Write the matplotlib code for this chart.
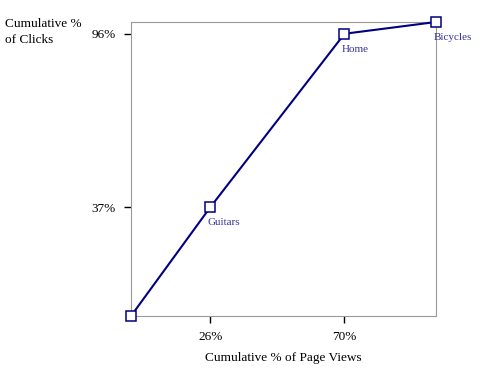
import matplotlib.pyplot as plt

page_views = [0, 26, 70, 100]
clicks = [0, 37, 96, 100]
point_names = ["", "Guitars", "Home", "Bicycles"]
x_ticks = [26, 70]
y_ticks = [37, 96]

plt.rcParams['font.family'] = ['Liberation Serif', 'DejaVu Serif']

fig = plt.figure(figsize=(4.82, 3.77), dpi=100)
ax = fig.add_axes([131 / 482, 61 / 377, 305 / 482, 294 / 377])

ax.plot(page_views, clicks, color='#000080', lw=1.5, marker='s', ms=6.5,
        mfc='white', mec='#000080', mew=1.1, clip_on=False, zorder=3)

for x, y, name in zip(page_views, clicks, point_names):
    if name:
        ax.annotate(name, (x, y), xytext=(-2, -8), textcoords='offset points',
                    ha='left', va='top', fontsize=8, color='#333399')

ax.set_xlim(0, 100)
ax.set_ylim(0, 100)
ax.set_xticks(x_ticks)
ax.set_xticklabels([f"{v}%" for v in x_ticks])
ax.set_yticks(y_ticks)
ax.set_yticklabels([f"{v}%" for v in y_ticks])
ax.tick_params(direction='out', length=5, width=1, labelsize=9.5, pad=6)

for s in ax.spines.values():
    s.set_color('#999999')

ax.set_xlabel("Cumulative % of Page Views", fontsize=9.5, labelpad=6)
fig.text(5 / 482, 1 - 32 / 377, "Cumulative %\nof Clicks", fontsize=9.5,
         ha='left', va='center', linespacing=1.45)

fig.savefig("out.png", dpi=100)
